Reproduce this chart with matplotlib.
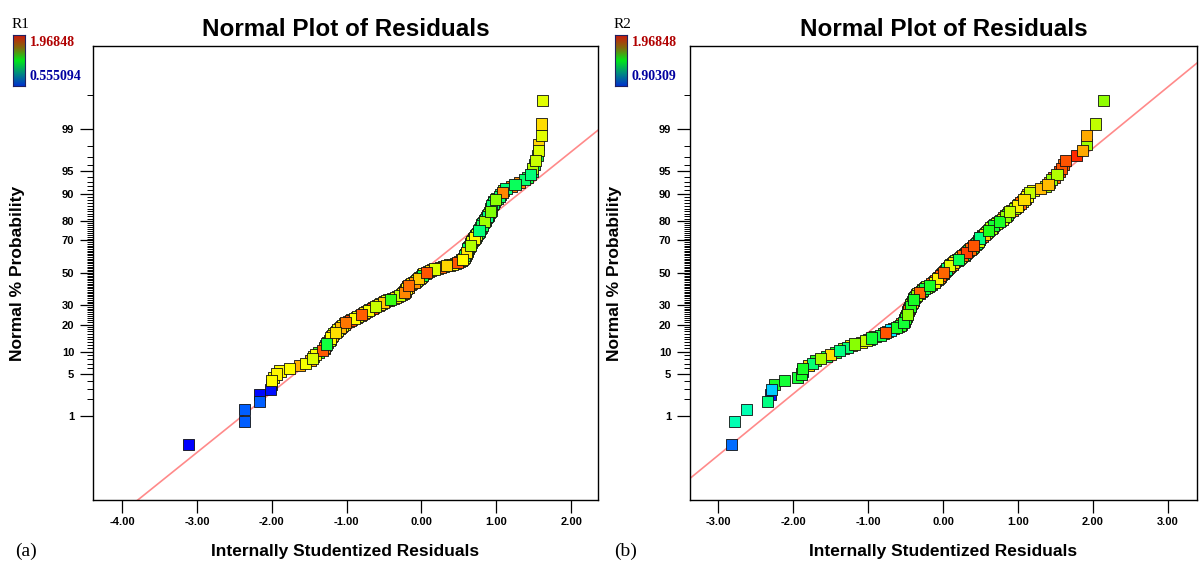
import numpy as np
import matplotlib
matplotlib.use("Agg")
import matplotlib.pyplot as plt
from matplotlib.colors import LinearSegmentedColormap, Normalize
from matplotlib.ticker import FixedLocator, NullFormatter, FuncFormatter
from statistics import NormalDist

# --- data (sorted internally studentized residuals) ---
res_a = [-3.11, -2.37, -2.36, -2.17, -2.16, -2.02, -2.01, -2.00, -1.98, -1.94,
         -1.89, -1.76, -1.63, -1.55, -1.48, -1.46, -1.44, -1.42, -1.38, -1.32,
         -1.30, -1.29, -1.28, -1.27, -1.25, -1.23, -1.22, -1.21, -1.20, -1.19,
         -1.17, -1.15, -1.13, -1.12, -1.10, -1.08, -1.07, -1.05, -1.03, -1.01,
         -0.98, -0.95, -0.93, -0.90, -0.87, -0.85, -0.82, -0.80, -0.78, -0.76,
         -0.74, -0.71, -0.69, -0.66, -0.64, -0.61, -0.58, -0.56, -0.54, -0.51,
         -0.49, -0.47, -0.44, -0.41, -0.38, -0.35, -0.32, -0.29, -0.27, -0.25,
         -0.24, -0.23, -0.22, -0.21, -0.21, -0.20, -0.19, -0.18, -0.18, -0.17,
         -0.15, -0.13, -0.11, -0.09, -0.08, -0.07, -0.05, -0.04, -0.02, -0.01,
         0.00, 0.01, 0.02, 0.03, 0.05, 0.07, 0.10, 0.12, 0.15, 0.18,
         0.21, 0.25, 0.29, 0.33, 0.37, 0.41, 0.45, 0.48, 0.51, 0.53,
         0.54, 0.55, 0.56, 0.57, 0.57, 0.58, 0.59, 0.59, 0.60, 0.60,
         0.61, 0.61, 0.62, 0.62, 0.63, 0.63, 0.64, 0.65, 0.65, 0.66,
         0.67, 0.67, 0.68, 0.69, 0.70, 0.71, 0.72, 0.72, 0.73, 0.74,
         0.75, 0.76, 0.77, 0.77, 0.78, 0.79, 0.80, 0.81, 0.81, 0.82,
         0.83, 0.84, 0.85, 0.86, 0.87, 0.88, 0.89, 0.90, 0.91, 0.92,
         0.93, 0.93, 0.94, 0.94, 0.95, 0.96, 0.97, 0.99, 1.01, 1.04,
         1.06, 1.08, 1.10, 1.13, 1.20, 1.25, 1.31, 1.38, 1.42, 1.46,
         1.48, 1.49, 1.51, 1.53, 1.55, 1.56, 1.57, 1.60, 1.60, 1.62]

r1_vals = [0.56, 0.70, 0.70, 0.70, 0.57, 0.58, 0.60, 1.62, 1.60, 1.63,
           1.62, 1.61, 1.74, 1.60, 1.75, 1.55, 1.62, 1.60, 1.30, 1.87,
           1.64, 1.78, 0.60, 1.20, 1.90, 1.50, 1.80, 1.62, 1.88, 1.70,
           1.45, 1.66, 1.85, 1.58, 1.25, 1.72, 1.88, 1.60, 1.50, 1.82,
           1.68, 1.90, 1.35, 1.62, 1.78, 1.55, 1.70, 1.86, 1.48, 1.66,
           1.74, 1.60, 1.20, 1.90, 1.64, 1.52, 1.80, 1.66, 1.40, 1.70,
           1.88, 1.58, 1.62, 1.30, 1.76, 1.66, 1.86, 1.50, 1.72, 1.62,
           1.45, 1.80, 1.68, 1.56, 1.90, 1.62, 1.25, 1.72, 1.60, 1.84,
           1.52, 1.66, 1.15, 1.78, 1.62, 1.48, 1.88, 1.70, 1.40, 1.58,
           1.66, 1.20, 1.82, 1.62, 1.50, 1.88, 1.10, 1.66, 1.74, 1.55,
           1.62, 1.85, 1.15, 1.68, 1.50, 1.62, 1.10, 1.88, 1.70, 1.58,
           1.12, 1.62, 1.88, 1.45, 1.60, 1.15, 1.70, 1.52, 1.35, 1.65,
           1.78, 1.20, 1.60, 1.12, 1.50, 1.66, 1.15, 1.48, 1.30, 1.62,
           1.10, 1.55, 1.20, 1.46, 1.12, 1.62, 1.18, 1.40, 1.10, 1.52,
           1.15, 1.20, 1.48, 1.10, 1.30, 1.12, 1.50, 1.16, 1.40, 1.10,
           1.20, 1.45, 1.12, 1.15, 1.50, 1.08, 1.25, 1.48, 1.12, 1.40,
           1.10, 1.18, 1.52, 1.12, 1.45, 1.15, 1.10, 1.42, 1.20, 1.12,
           1.16, 1.80, 1.45, 1.10, 1.82, 1.15, 1.80, 1.12, 1.20, 1.10,
           1.12, 1.48, 1.15, 1.52, 1.18, 1.55, 1.68, 1.56, 1.67, 1.56]

res_b = [-2.82, -2.78, -2.62, -2.34, -2.31, -2.29, -2.25, -2.12, -1.95, -1.89,
         -1.88, -1.88, -1.80, -1.75, -1.70, -1.64, -1.56, -1.50, -1.44, -1.38,
         -1.33, -1.28, -1.23, -1.18, -1.09, -1.03, -0.99, -0.96, -0.91, -0.84,
         -0.80, -0.77, -0.74, -0.70, -0.66, -0.62, -0.59, -0.57, -0.55, -0.53,
         -0.52, -0.51, -0.51, -0.50, -0.50, -0.49, -0.49, -0.48, -0.48, -0.47,
         -0.47, -0.46, -0.46, -0.45, -0.45, -0.44, -0.44, -0.43, -0.42, -0.41,
         -0.41, -0.40, -0.40, -0.39, -0.39, -0.38, -0.37, -0.36, -0.35, -0.34,
         -0.32, -0.31, -0.29, -0.28, -0.27, -0.25, -0.23, -0.22, -0.20, -0.18,
         -0.16, -0.15, -0.13, -0.12, -0.11, -0.10, -0.08, -0.07, -0.06, -0.05,
         -0.04, -0.03, -0.02, -0.01, 0.00, 0.01, 0.02, 0.03, 0.04, 0.05,
         0.06, 0.07, 0.08, 0.09, 0.10, 0.12, 0.13, 0.14, 0.15, 0.17,
         0.19, 0.20, 0.22, 0.23, 0.25, 0.26, 0.28, 0.29, 0.30, 0.31,
         0.33, 0.34, 0.35, 0.36, 0.38, 0.39, 0.40, 0.41, 0.43, 0.45,
         0.46, 0.47, 0.47, 0.48, 0.48, 0.49, 0.50, 0.52, 0.53, 0.55,
         0.56, 0.58, 0.59, 0.61, 0.62, 0.64, 0.66, 0.67, 0.69, 0.71,
         0.73, 0.75, 0.77, 0.79, 0.81, 0.83, 0.84, 0.86, 0.87, 0.89,
         0.92, 0.95, 0.97, 0.99, 1.01, 1.03, 1.06, 1.08, 1.10, 1.12,
         1.13, 1.15, 1.20, 1.30, 1.37, 1.40, 1.42, 1.45, 1.48, 1.52,
         1.55, 1.58, 1.61, 1.64, 1.78, 1.86, 1.91, 1.91, 2.03, 2.14]

r2_vals = [1.03, 1.25, 1.25, 1.30, 0.92, 1.12, 1.42, 1.40, 1.40, 1.42,
           1.00, 1.42, 1.75, 1.32, 1.45, 1.58, 1.36, 1.74, 1.44, 1.30,
           1.58, 1.32, 1.72, 1.55, 1.70, 1.62, 1.42, 1.40, 1.60, 1.38,
           1.44, 1.90, 1.42, 1.15, 1.88, 1.42, 1.80, 1.44, 1.88, 1.40,
           1.62, 1.36, 1.92, 1.44, 1.70, 1.40, 1.84, 1.55, 1.38, 1.74,
           1.42, 1.88, 1.50, 1.36, 1.66, 1.44, 1.90, 1.58, 1.40, 1.76,
           1.44, 1.60, 1.88, 1.42, 1.70, 1.36, 1.82, 1.56, 1.44, 1.72,
           1.40, 1.88, 1.62, 1.45, 1.70, 1.38, 1.90, 1.58, 1.74, 1.42,
           1.60, 1.88, 1.42, 1.68, 1.56, 1.90, 1.40, 1.72, 1.60, 1.84,
           1.44, 1.90, 1.58, 1.36, 1.72, 1.88, 1.42, 1.62, 1.80, 1.32,
           1.58, 1.90, 1.44, 1.66, 1.38, 1.86, 1.56, 1.74, 1.42, 1.60,
           1.90, 1.36, 1.62, 1.72, 1.44, 1.88, 1.58, 1.32, 1.66, 1.92,
           1.56, 1.40, 1.74, 1.88, 1.60, 1.44, 1.70, 1.90, 1.58, 1.34,
           1.70, 1.62, 1.88, 1.44, 1.72, 1.30, 1.68, 1.90, 1.56, 1.76,
           1.90, 1.62, 1.92, 1.44, 1.74, 1.58, 1.88, 1.40, 1.70, 1.62,
           1.90, 1.42, 1.78, 1.66, 1.88, 1.56, 1.74, 1.44, 1.76, 1.62,
           1.84, 1.58, 1.90, 1.72, 1.42, 1.88, 1.66, 1.74, 1.90, 1.70,
           1.80, 1.62, 1.70, 1.78, 1.58, 1.78, 1.82, 1.56, 1.88, 1.60,
           1.92, 1.90, 1.88, 1.90, 1.95, 1.80, 1.57, 1.80, 1.62, 1.56]

r1_range = (0.555094, 1.96848)
r2_range = (0.90309, 1.96848)

prob_major = [1, 5, 10, 20, 30, 50, 70, 80, 90, 95, 99]
prob_minor = list(range(1, 100)) + [99.8]
xticks_a = [-4, -3, -2, -1, 0, 1, 2]
xticks_b = [-3, -2, -1, 0, 1, 2, 3]

# reference line: z = intercept + slope * residual
line_a = (0.01, 0.976)
line_b = (0.027, 0.996)

nd = NormalDist()


def probit(p):
    p = np.clip(np.asarray(p, dtype=float), 1e-7, 100 - 1e-7)
    return np.vectorize(lambda v: nd.inv_cdf(v / 100.0), otypes=[float])(p)


def cdf_pct(z):
    z = np.asarray(z, dtype=float)
    return np.vectorize(lambda v: 100.0 * nd.cdf(v), otypes=[float])(z)


def bit_reversed(n):
    # drawing order that mixes ranks along the chain
    bits = int(np.ceil(np.log2(n)))
    idx = [int(format(k, "0%db" % bits)[::-1], 2) for k in range(2 ** bits)]
    return np.array([k for k in idx if k < n])


# point colours: blue -> cyan -> green -> yellow -> red
pt_cmap = LinearSegmentedColormap.from_list("pts", [
    (0.0, (0.0, 0.0, 1.0)), (0.125, (0.0, 0.45, 1.0)), (0.25, (0.0, 1.0, 1.0)),
    (0.375, (0.0, 1.0, 0.5)), (0.5, (0.1, 1.0, 0.1)), (0.625, (0.6, 1.0, 0.0)),
    (0.75, (1.0, 1.0, 0.0)), (0.875, (1.0, 0.55, 0.0)), (1.0, (1.0, 0.1, 0.0))])
# the little legend bar looks like red -> green -> blue
bar_cmap = LinearSegmentedColormap.from_list("bar", [
    (0.0, (0.0, 0.2, 0.8)), (0.25, (0.0, 0.55, 0.5)), (0.5, (0.0, 0.9, 0.1)),
    (0.75, (0.5, 0.42, 0.05)), (1.0, (0.8, 0.1, 0.05))])

plt.rcParams['font.family'] = ['Liberation Sans', 'DejaVu Sans']

W, H = 1200, 575
fig = plt.figure(figsize=(12, 5.75), dpi=100)


def px_axes(x0, y0, x1, y1):
    return fig.add_axes([x0 / W, 1 - y1 / H, (x1 - x0) / W, (y1 - y0) / H])


def panel(ax, res, cvals, crange, xlim, xticks, line):
    res = np.asarray(res)
    cvals = np.asarray(cvals)
    order = np.argsort(res, kind="stable")
    res = res[order]
    cvals = cvals[order]
    n = len(res)
    pct = 100.0 * (np.arange(1, n + 1) - 0.5) / n

    ax.set_yscale('function', functions=(probit, cdf_pct))
    ax.set_xlim(*xlim)
    ax.set_ylim(cdf_pct(-3.69), cdf_pct(3.68))

    xs = np.array(xlim)
    ax.plot(xs, cdf_pct(line[0] + line[1] * xs), color='#ff8a8a', lw=1.2, zorder=1)

    draw = bit_reversed(n)
    norm = Normalize(*crange)
    ax.scatter(res[draw], pct[draw], s=64, marker='s', c=cvals[draw], cmap=pt_cmap,
               norm=norm, edgecolors='#111111', linewidths=0.6, zorder=3)

    ax.yaxis.set_major_locator(FixedLocator(prob_major))
    ax.yaxis.set_minor_locator(FixedLocator(prob_minor))
    ax.yaxis.set_major_formatter(FuncFormatter(lambda v, _: "%d" % round(v)))
    ax.yaxis.set_minor_formatter(NullFormatter())
    ax.set_xticks(xticks)
    ax.set_xticklabels(["%.2f" % t for t in xticks])
    ax.xaxis.set_minor_locator(FixedLocator([]))

    ax.tick_params(axis='y', which='major', length=9.5, width=0.9, pad=4,
                   labelsize=8, direction='out')
    ax.tick_params(axis='y', which='minor', length=4.3, width=0.7, direction='out')
    ax.tick_params(axis='x', which='major', length=9, width=0.9, pad=3,
                   labelsize=8, direction='out')
    for lab in ax.get_xticklabels() + ax.get_yticklabels():
        lab.set_fontweight('bold')
    for sp in ax.spines.values():
        sp.set_linewidth(1.0)

    ax.set_title("Normal Plot of Residuals", fontsize=17.5, fontweight='bold', pad=7)
    ax.set_ylabel("Normal % Probability", fontsize=12.5, fontweight='bold')
    ax.yaxis.set_label_coords(-0.135, 0.5)
    ax.set_xlabel("Internally Studentized Residuals", fontsize=12.5, fontweight='bold')
    ax.xaxis.set_label_coords(0.5, -0.097)


ax_a = px_axes(93, 46, 598, 500)
panel(ax_a, res_a, r1_vals, r1_range, (-4.39, 2.36), xticks_a, line_a)
ax_b = px_axes(690, 46, 1197, 500)
panel(ax_b, res_b, r2_vals, r2_range, (-3.38, 3.39), xticks_b, line_b)


def legend_bar(x0, name, crange):
    cax = px_axes(x0, 35, x0 + 12, 86)
    grad = np.linspace(0, 1, 100).reshape(-1, 1)
    cax.imshow(grad, aspect='auto', cmap=bar_cmap, origin='lower')
    cax.set_xticks([])
    cax.set_yticks([])
    for sp in cax.spines.values():
        sp.set_color('#202060')
        sp.set_linewidth(0.8)
    fig.text((x0 - 1) / W, 1 - 24 / H, name, family='Liberation Serif',
             fontsize=11, va='center', ha='left')
    fig.text((x0 + 17) / W, 1 - 42 / H, "%g" % crange[1], family='Liberation Serif',
             fontsize=10, fontweight='bold', color='#b00000', va='center', ha='left')
    fig.text((x0 + 17) / W, 1 - 76 / H, "%g" % crange[0], family='Liberation Serif',
             fontsize=10, fontweight='bold', color='#0000a0', va='center', ha='left')


legend_bar(13, "R1", r1_range)
legend_bar(615, "R2", r2_range)

fig.text(15 / W, 1 - 551 / H, "(a)", family='Liberation Serif', fontsize=14,
         va='center', ha='left')
fig.text(614 / W, 1 - 551 / H, "(b)", family='Liberation Serif', fontsize=14,
         va='center', ha='left')

fig.savefig("out.png", dpi=100)
